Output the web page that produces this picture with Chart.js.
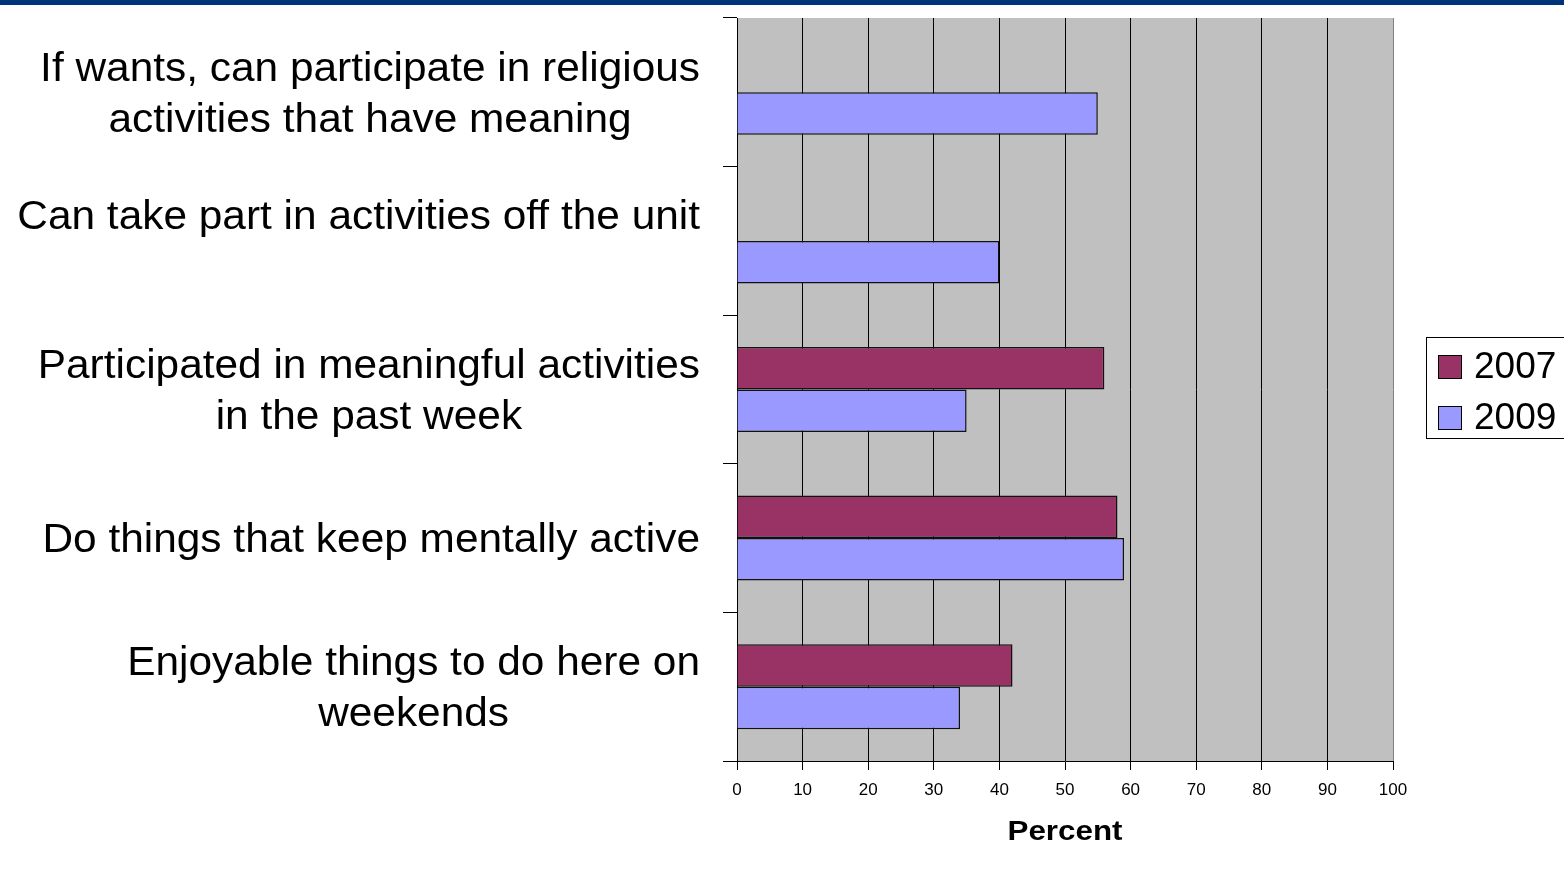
<!DOCTYPE html>
<html>
<head>
<meta charset="utf-8">
<title>Activities</title>
<script src="https://cdn.jsdelivr.net/npm/chart.js@4.4.1/dist/chart.umd.min.js"></script>
<style>
  body { margin: 0; background: #fff; }
  #wrap { position: relative; width: 1564px; height: 870px; }
  #topbar { position: absolute; left: 0; top: 0; width: 1564px; height: 5px; background: #003478; }
</style>
</head>
<body>
<div id="wrap">
  <canvas id="chart" width="1564" height="870"></canvas>
  <div id="topbar"></div>
</div>
<script>
// categories, top to bottom
var categories = [
  ["If wants, can participate in religious", "activities that have meaning"],
  ["Can take part in activities off the unit", ""],
  ["Participated in meaningful activities", "in the past week"],
  ["Do things that keep mentally active"],
  ["Enjoyable things to do here on", "weekends"]
];
var values2007 = [null, null, 56, 58, 42];
var values2009 = [55, 40, 35, 59, 34];
var xTicks = [0, 10, 20, 30, 40, 50, 60, 70, 80, 90, 100];
var xTitle = 'Percent';

var fam = '"Liberation Sans", Arial, sans-serif';

// grey plot background, category labels, axis title and boxed legend
var decor = {
  id: 'decor',
  beforeDraw: function(chart) {
    var a = chart.chartArea, ctx = chart.ctx;
    ctx.save();
    ctx.fillStyle = '#c0c0c0';
    ctx.fillRect(a.left, a.top, a.right - a.left, a.bottom - a.top);
    ctx.restore();
  },
  afterDraw: function(chart) {
    var ctx = chart.ctx, y = chart.scales.y, a = chart.chartArea;
    var sx = 1.06, lh = 51;
    ctx.save();
    ctx.font = '40px ' + fam;
    ctx.fillStyle = '#000';
    ctx.textAlign = 'center';
    ctx.textBaseline = 'middle';
    categories.forEach(function(lines, i) {
      var w = 0;
      lines.forEach(function(l) { w = Math.max(w, ctx.measureText(l).width * sx); });
      var cx = 700 - w / 2;
      var cy = y.getPixelForValue(i) + 3;
      var y0 = cy - (lines.length - 1) * lh / 2;
      lines.forEach(function(l, k) {
        ctx.save();
        ctx.translate(cx, y0 + k * lh);
        ctx.scale(sx, 1);
        ctx.fillText(l, 0, 0);
        ctx.restore();
      });
    });

    // x axis title
    ctx.save();
    ctx.font = 'bold 27px ' + fam;
    ctx.translate((a.left + a.right) / 2, 833);
    ctx.scale(1.16, 1);
    ctx.fillText(xTitle, 0, 0);
    ctx.restore();

    // legend
    ctx.font = '37px ' + fam;
    ctx.fillStyle = '#fff';
    ctx.strokeStyle = '#000';
    ctx.lineWidth = 1;
    ctx.fillRect(1426.5, 337.5, 150, 101);
    ctx.strokeRect(1426.5, 337.5, 150, 101);
    ctx.textAlign = 'left';
    chart.data.datasets.forEach(function(ds, i) {
      var sy = 355 + i * 51;
      ctx.fillStyle = ds.backgroundColor;
      ctx.fillRect(1438.5, sy + 0.5, 23, 23);
      ctx.strokeRect(1438.5, sy + 0.5, 23, 23);
      ctx.fillStyle = '#000';
      ctx.fillText(ds.label, 1474, sy + 13);
    });
    ctx.restore();
  }
};

new Chart(document.getElementById('chart'), {
  type: 'bar',
  data: {
    labels: categories,
    datasets: [
      { label: '2007', data: values2007, backgroundColor: '#993366', borderColor: '#111', borderWidth: 1.5 },
      { label: '2009', data: values2009, backgroundColor: '#9999ff', borderColor: '#111', borderWidth: 1.5 }
    ]
  },
  options: {
    indexAxis: 'y',
    responsive: false,
    animation: false,
    categoryPercentage: 0.572,
    barPercentage: 1,
    layout: { padding: { top: 18, right: 171, left: 0, bottom: 0 } },
    plugins: { legend: { display: false }, tooltip: { enabled: false } },
    scales: {
      x: {
        min: 0,
        max: 100,
        afterBuildTicks: function(scale) {
          scale.ticks = xTicks.map(function(v) { return { value: v }; });
        },
        afterFit: function(scale) { scale.height = 109; },
        grid: {
          color: function(c) { return c.tick && c.tick.value === 100 ? '#808080' : '#000'; },
          tickColor: '#000',
          tickLength: 9,
          lineWidth: 1
        },
        border: { color: '#000', width: 1 },
        ticks: {
          color: '#000',
          padding: 10,
          font: { family: fam, size: 17 }
        }
      },
      y: {
        afterFit: function(scale) { scale.width = 737; },
        grid: {
          offset: true,
          drawOnChartArea: false,
          tickLength: 14,
          tickColor: '#000',
          color: '#000'
        },
        border: { color: '#000', width: 1 },
        ticks: { display: false }
      }
    }
  },
  plugins: [decor]
});
</script>
</body>
</html>
